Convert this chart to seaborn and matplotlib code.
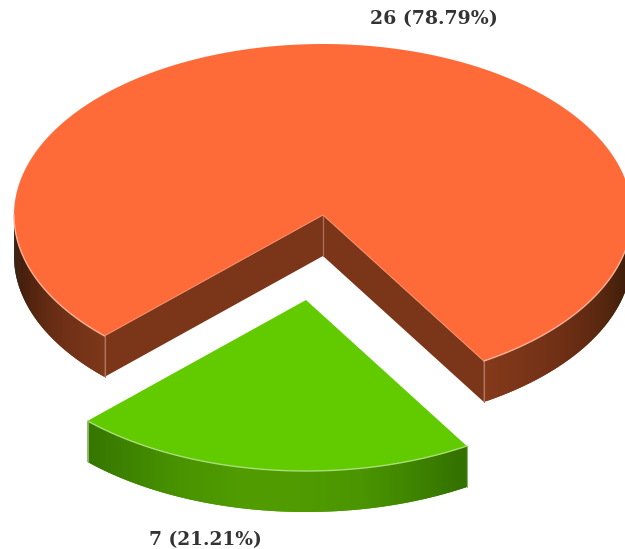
import numpy as np
import matplotlib.pyplot as plt
import seaborn as sns

labels = ["26 (78.79%)", "7 (21.21%)"]
counts = [26, 7]

sns.set_theme(style="white")
plt.rcParams['font.family'] = ['DejaVu Serif']

fig = plt.figure(figsize=(6.25, 5.49), dpi=100)
ax = fig.add_axes([0, 0, 1, 1])
ax.set_xlim(0, 625)
ax.set_ylim(549, 0)
ax.axis("off")

rx, ry, depth = 309, 171, 41
main_c = (323, 215)
green_c = (306, 300)

# green slice sits at the bottom, sweep comes from the counts
sweep = 360 * counts[1] / sum(counts)
start = 225.0
end = start + sweep


def pt(c, deg):
    t = np.radians(deg)
    return c[0] + rx * np.cos(t), c[1] - ry * np.sin(t)


def rim(c, t0, t1, colors, n=90):
    # outer wall as strips, each overlaps the next so no seams show
    pal = sns.blend_palette(colors, n)
    ts = np.linspace(t0, t1, n + 1)
    for i in range(n):
        seg = np.linspace(ts[i], ts[min(i + 2, n)], 4)
        xs, ys = pt(c, seg)
        ax.fill(np.r_[xs, xs[::-1]], np.r_[ys, ys[::-1] + depth],
                color=pal[i], lw=0, zorder=2)


def top(c, t0, t1, color):
    xs, ys = pt(c, np.linspace(t0, t1, 300))
    ax.fill(np.r_[c[0], xs], np.r_[c[1], ys], color=color, lw=0, zorder=4)


# main slice: walls
brown = "#7b3619"
rim(main_c, 180, start, ["#241005", "#4a200c", "#6a2e15", "#7d3719"])
rim(main_c, end, 360, ["#84391a", "#743217", "#5f2911", "#43200b", "#2e1407"])
lx, ly = pt(main_c, start)
rx_, ry_ = pt(main_c, end)
ax.fill([lx, main_c[0], main_c[0], lx],
        [ly, main_c[1], main_c[1] + depth, ly + depth], color=brown, lw=0, zorder=3)
ax.fill([rx_, main_c[0], main_c[0], rx_],
        [ry_, main_c[1], main_c[1] + depth, ry_ + depth], color=brown, lw=0, zorder=3)
for x, y in [(lx, ly), (rx_, ry_), main_c]:
    ax.plot([x, x], [y, y + depth], color="#b0725a", lw=0.9, zorder=3.5)

# main slice: top
top(main_c, end, start + 360, "#ff6a39")
ax.plot(*pt(main_c, np.linspace(180, start, 60)), color="#f7b297", lw=1, zorder=5)
ax.plot(*pt(main_c, np.linspace(end, 360, 90)), color="#f7b297", lw=1, zorder=5)
ax.plot([lx, main_c[0], rx_], [ly, main_c[1], ry_], color="#f28f6b", lw=0.7, zorder=5)

# green slice
rim(green_c, start, end,
    ["#357500", "#3f8500", "#4a9400", "#4f9b00", "#4f9b00", "#4b9600", "#3f8400", "#327000"],
    n=120)
top(green_c, start, end, "#62cb00")
ax.plot(*pt(green_c, np.linspace(start, end, 120)), color="#a9de78", lw=1, zorder=5)
gl, gr = pt(green_c, start), pt(green_c, end)
ax.plot([gl[0], gl[0]], [gl[1], gl[1] + depth], color="#86b85a", lw=0.8, zorder=5)
ax.plot([gr[0], gr[0]], [gr[1], gr[1] + depth], color="#86b85a", lw=0.8, zorder=5)

ax.text(434, 19, labels[0], ha="center", va="center", fontsize=13.6,
        fontweight="bold", color="#333333")
ax.text(205, 540, labels[1], ha="center", va="center", fontsize=13.4,
        fontweight="bold", color="#333333")

fig.savefig("out.png", dpi=100)
